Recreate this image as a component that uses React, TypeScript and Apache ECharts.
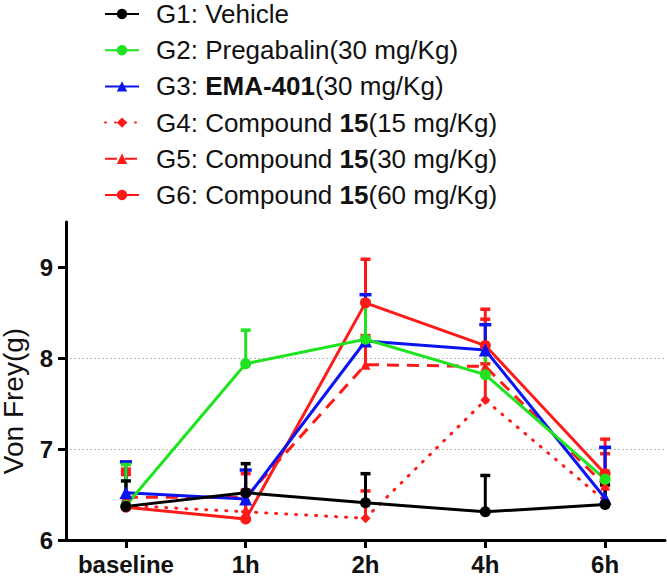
import React, { useEffect, useRef } from "react";
import * as echarts from "echarts";

const categories = ["baseline", "1h", "2h", "4h", "6h"];

const seriesNames = ["G1", "G2", "G3", "G4", "G5", "G6"];
const legendLabels = [
  "G1: Vehicle",
  "G2: Pregabalin(30 mg/Kg)",
  "G3: {b|EMA-401}(30 mg/Kg)",
  "G4: Compound {b|15}(15 mg/Kg)",
  "G5: Compound {b|15}(30 mg/Kg)",
  "G6: Compound {b|15}(60 mg/Kg)",
];

const g1Mean = [6.37, 6.52, 6.41, 6.31, 6.39];
const g1Sem = [0.28, 0.32, 0.32, 0.4, 0.22];
const g2Mean = [6.38, 7.94, 8.21, 7.82, 6.67];
const g2Sem = [0.45, 0.37, 0.42, 0.32, 0.09];
const g3Mean = [6.52, 6.45, 8.19, 8.09, 6.46];
const g3Sem = [0.34, 0.32, 0.51, 0.28, 0.56];
const g4Mean = [6.38, 6.31, 6.24, 7.54, 6.43];
const g4Sem = [0.37, 0.24, 0.3, 0.4, 0.17];
const g5Mean = [6.47, 6.47, 7.93, 7.91, 6.6];
const g5Sem = [0.31, 0.26, 0.32, 0.52, 0.35];
const g6Mean = [6.36, 6.23, 8.61, 8.14, 6.73];
const g6Sem = [0.36, 0.27, 0.48, 0.4, 0.38];

const yTicks = [6, 7, 8, 9];

const FONT = "'Liberation Sans', Arial, Helvetica, sans-serif";

type Grp = {
  name: string;
  mean: number[];
  sem: number[];
  color: string;
  symbol: string;
  symbolSize: number;
  lineType: any;
  capW: number;
};

const groups: Grp[] = [
  { name: seriesNames[0], mean: g1Mean, sem: g1Sem, color: "#000000", symbol: "circle", symbolSize: 11, lineType: "solid", capW: 10 },
  { name: seriesNames[1], mean: g2Mean, sem: g2Sem, color: "#1fe31f", symbol: "circle", symbolSize: 11, lineType: "solid", capW: 10 },
  { name: seriesNames[2], mean: g3Mean, sem: g3Sem, color: "#0a14f0", symbol: "triangle", symbolSize: 13, lineType: "solid", capW: 12 },
  { name: seriesNames[3], mean: g4Mean, sem: g4Sem, color: "#ff1a1a", symbol: "diamond", symbolSize: 10, lineType: [1, 9], capW: 10 },
  { name: seriesNames[4], mean: g5Mean, sem: g5Sem, color: "#ff1a1a", symbol: "triangle", symbolSize: 10, lineType: [12, 8], capW: 10 },
  { name: seriesNames[5], mean: g6Mean, sem: g6Sem, color: "#ff1a1a", symbol: "circle", symbolSize: 11, lineType: "solid", capW: 10 },
];

export default function App() {
  const ref = useRef<HTMLDivElement>(null);

  useEffect(() => {
    document.body.style.margin = "0";
    if (!ref.current) return;
    const chart = echarts.init(ref.current, undefined, { renderer: "svg" });

    const series: any[] = [];
    // draw G6 first, G1 last (on top)
    [...groups].reverse().forEach((g) => {
      const color = g.color;
      const capW = g.capW;
      series.push({
        name: g.name + "-err",
        type: "custom",
        silent: true,
        data: g.mean.map((m, i) => [i, m, m + g.sem[i]]),
        encode: { x: 0, y: [1, 2] },
        renderItem: (params: any, api: any) => {
          const p0 = api.coord([api.value(0), api.value(1)]);
          const p1 = api.coord([api.value(0), api.value(2)]);
          return {
            type: "group",
            children: [
              {
                type: "line",
                shape: { x1: p0[0], y1: p0[1], x2: p1[0], y2: p1[1] },
                style: { stroke: color, lineWidth: 3 },
              },
              {
                type: "line",
                shape: { x1: p1[0] - capW / 2, y1: p1[1], x2: p1[0] + capW / 2, y2: p1[1] },
                style: { stroke: color, lineWidth: 3.5 },
              },
            ],
          };
        },
      });
      series.push({
        name: g.name,
        type: "line",
        data: g.mean,
        symbol: g.symbol,
        symbolSize: g.symbolSize,
        showSymbol: true,
        color,
        itemStyle: { color },
        lineStyle: { color, width: 3, type: g.lineType, cap: Array.isArray(g.lineType) && g.lineType[0] === 1 ? "round" : "butt" },
      });
    });

    chart.setOption({
      animation: false,
      backgroundColor: "#ffffff",
      grid: { left: 66, right: 2, top: 222, bottom: 39, containLabel: false, outerBoundsMode: "none" },
      legend: {
        orient: "vertical",
        left: 104,
        top: 1,
        padding: 0,
        itemWidth: 34,
        itemHeight: 13,
        itemGap: 10.2,
        data: seriesNames,
        selectedMode: false,
        formatter: (name: string) => legendLabels[seriesNames.indexOf(name)],
        textStyle: {
          fontSize: 26,
          fontFamily: FONT,
          color: "#111",
          lineHeight: 26,
          padding: [0, 0, 0, 12],
          rich: {
            b: { fontSize: 26, fontFamily: FONT, fontWeight: "bold", color: "#111", lineHeight: 26 },
          },
        },
      },
      xAxis: {
        type: "category",
        data: categories,
        boundaryGap: true,
        axisLine: { show: true, lineStyle: { color: "#000", width: 3 } },
        axisTick: { show: true, alignWithLabel: true, length: 8, lineStyle: { color: "#000", width: 3 } },
        axisLabel: { interval: 0, fontSize: 24, fontWeight: "bold", fontFamily: FONT, color: "#111", margin: 12 },
        splitLine: { show: false },
      },
      yAxis: {
        type: "value",
        min: 6,
        max: 9.5,
        interval: 1,
        name: "Von Frey(g)",
        nameLocation: "middle",
        nameGap: 34,
        nameTextStyle: { fontSize: 28, lineHeight: 30, fontFamily: FONT, color: "#111", padding: [0, 40, 0, 0] },
        axisLine: { show: true, lineStyle: { color: "#000", width: 3 } },
        axisTick: { show: true, length: 8, customValues: yTicks, lineStyle: { color: "#000", width: 3 } },
        axisLabel: { fontSize: 24, fontWeight: "bold", fontFamily: FONT, color: "#111", margin: 13, customValues: yTicks },
        splitLine: {
          show: true,
          showMinLine: false,
          showMaxLine: false,
          lineStyle: { color: "#bdbdbd", width: 1, type: [2, 2] },
        },
      },
      series,
    });

    return () => chart.dispose();
  }, []);

  return <div ref={ref} style={{ width: 667, height: 579 }} />;
}
